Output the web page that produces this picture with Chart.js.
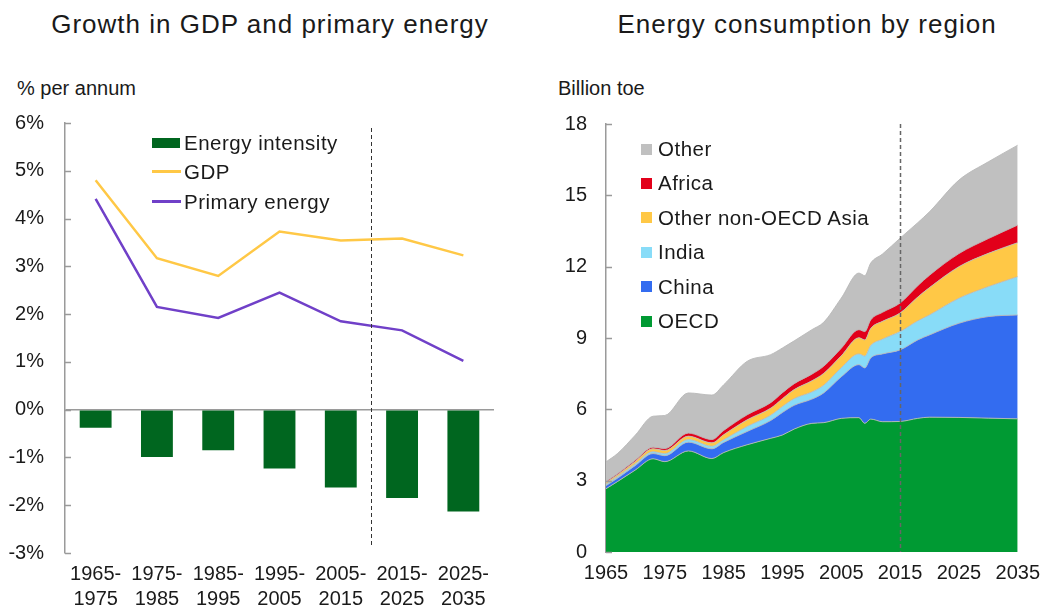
<!DOCTYPE html>
<html>
<head>
<meta charset="utf-8">
<script src="https://cdn.jsdelivr.net/npm/chart.js@4.4.0/dist/chart.umd.min.js"></script>
<style>
  body { margin:0; background:#fff; font-family:"Liberation Sans", Arial, sans-serif; color:#1a1a1a; }
  #wrap { position:relative; width:1049px; height:607px; overflow:hidden; }
  .txt { position:absolute; white-space:nowrap; }
  .title { font-size:26px; line-height:26px; top:11px; letter-spacing:1px; }
  .unit { font-size:20px; line-height:20px; top:78px; }
  .leg { position:absolute; font-size:20.5px; line-height:20px; white-space:nowrap; letter-spacing:0.5px; }
  .sw { position:absolute; }
  canvas { position:absolute; top:0; }
</style>
</head>
<body>
<div id="wrap">
  <div class="txt title" style="left:270px;transform:translateX(-50%)">Growth in GDP and primary energy</div>
  <div class="txt title" style="left:807px;transform:translateX(-50%)">Energy consumption by region</div>
  <div class="txt unit" style="left:17px">% per annum</div>
  <div class="txt unit" style="left:558px">Billion toe</div>

  <canvas id="growthChart" width="530" height="607" style="left:0"></canvas>
  <canvas id="regionChart" width="519" height="607" style="left:530px"></canvas>

  <!-- left legend -->
  <div class="sw" style="left:152px;top:138px;width:28px;height:10px;background:#00661f"></div>
  <div class="leg" style="left:184px;top:133px">Energy intensity</div>
  <div class="sw" style="left:152px;top:170px;width:29px;height:3px;background:#ffc846"></div>
  <div class="leg" style="left:184px;top:162px">GDP</div>
  <div class="sw" style="left:152px;top:200px;width:29px;height:3px;background:#7040c8"></div>
  <div class="leg" style="left:184px;top:192px">Primary energy</div>

  <!-- right legend -->
  <div id="regionLegend"></div>
</div>

<script>
// ---- left chart data ----
var periods = [["1965-","1975"],["1975-","1985"],["1985-","1995"],["1995-","2005"],["2005-","2015"],["2015-","2025"],["2025-","2035"]];
var energyIntensity = [-0.38, -0.99, -0.85, -1.23, -1.63, -1.85, -2.13];
var gdp = [4.80, 3.17, 2.80, 3.73, 3.54, 3.58, 3.23];
var primaryEnergy = [4.41, 2.15, 1.92, 2.45, 1.85, 1.66, 1.02];

// ---- right chart data (billion toe) ----
var years  = [1965, 1967, 1970, 1973, 1975, 1979, 1983, 1985, 1989, 1993, 1995, 1997, 2000, 2002, 2005, 2008, 2009, 2010, 2012, 2015, 2018, 2020, 2025, 2030, 2035];
var oecd   = [2.66, 2.97, 3.45, 3.92, 3.80, 4.25, 3.93, 4.18, 4.51, 4.78, 4.92, 5.17, 5.41, 5.44, 5.62, 5.65, 5.41, 5.59, 5.48, 5.49, 5.62, 5.67, 5.66, 5.63, 5.60];
var china  = [0.13, 0.14, 0.19, 0.22, 0.25, 0.37, 0.41, 0.43, 0.56, 0.75, 0.95, 1.00, 1.02, 1.25, 1.75, 2.23, 2.33, 2.57, 2.85, 3.01, 3.30, 3.46, 3.96, 4.27, 4.37];
var india  = [0.06, 0.06, 0.07, 0.08, 0.09, 0.11, 0.11, 0.11, 0.21, 0.22, 0.25, 0.28, 0.30, 0.32, 0.38, 0.45, 0.50, 0.52, 0.62, 0.77, 0.80, 0.84, 1.05, 1.26, 1.61];
var asia   = [0.07, 0.08, 0.10, 0.12, 0.13, 0.14, 0.14, 0.21, 0.28, 0.30, 0.33, 0.38, 0.47, 0.50, 0.50, 0.68, 0.68, 0.72, 0.75, 0.78, 1.00, 1.15, 1.33, 1.40, 1.43];
var africa = [0.05, 0.05, 0.06, 0.07, 0.08, 0.13, 0.14, 0.18, 0.21, 0.23, 0.25, 0.25, 0.28, 0.30, 0.32, 0.34, 0.35, 0.36, 0.38, 0.42, 0.48, 0.52, 0.55, 0.62, 0.74];
var other  = [0.82, 0.85, 1.05, 1.30, 1.39, 1.69, 1.87, 1.92, 2.25, 2.02, 1.88, 1.80, 1.87, 1.85, 2.11, 2.38, 2.35, 2.39, 2.45, 2.73, 2.65, 2.67, 3.09, 3.23, 3.36];

var regionNames  = ["OECD", "China", "India", "Other non-OECD Asia", "Africa", "Other"];
var regionColors = ["#009a33", "#336cf0", "#88dcf8", "#ffc846", "#e2001a", "#c0c0c0"];
var regionValues = [oecd, china, india, asia, africa, other];

var textColor = "#1a1a1a";
var axisGray = "#9a9a9a";
var fontFamily = '"Liberation Sans", Arial, sans-serif';

//inward tick marks on y axis -start
function innerTicksPlugin(len){
  return {
    id:'innerTicks',
    afterDraw: function(chart){
      var ctx = chart.ctx, y = chart.scales.y;
      ctx.save();
      ctx.strokeStyle = axisGray;
      ctx.lineWidth = 1.5;
      y.ticks.forEach(function(t){
        var py = Math.round(y.getPixelForValue(t.value)) + 0.5;
        ctx.beginPath();
        ctx.moveTo(y.right, py);
        ctx.lineTo(y.right + len, py);
        ctx.stroke();
      });
      ctx.restore();
    }
  };
}
//inward tick marks on y axis -end

// dashed divider for forecast period
function dividerPlugin(getX, topOff, botOff, color, width){
  return {
    id:'divider',
    afterDatasetsDraw: function(chart){
      var ctx = chart.ctx, a = chart.chartArea;
      var px = getX(chart);
      ctx.save();
      ctx.strokeStyle = color;
      ctx.lineWidth = width;
      ctx.setLineDash([4,3]);
      ctx.beginPath();
      ctx.moveTo(px, a.top + topOff);
      ctx.lineTo(px, a.bottom - botOff);
      ctx.stroke();
      ctx.restore();
    }
  };
}

//growth chart -start
var growthCtx = document.getElementById("growthChart").getContext("2d");
var growthChart = new Chart(growthCtx, {
  data: {
    labels: periods,
    datasets: [
      { type:'bar', label:'Energy intensity', data: energyIntensity, backgroundColor:'#00661f',
        barPercentage:0.52, categoryPercentage:1, order:2 },
      { type:'line', label:'GDP', data: gdp, borderColor:'#ffc846', borderWidth:2.5,
        pointRadius:0, tension:0, order:1 },
      { type:'line', label:'Primary energy', data: primaryEnergy, borderColor:'#7040c8', borderWidth:2.5,
        pointRadius:0, tension:0, order:1 }
    ]
  },
  options: {
    responsive:false,
    animation:false,
    layout:{ padding:{ top:123, right:36, left:0, bottom:0 } },
    plugins:{ legend:{ display:false }, tooltip:{ enabled:false } },
    scales:{
      x:{
        grid:{ display:false, drawTicks:false },
        border:{ display:false },
        ticks:{ color:textColor, font:{ family:fontFamily, size:20, lineHeight:1.25 }, padding:9, maxRotation:0 },
        afterFit:function(s){ s.height = 54; }
      },
      y:{
        min:-3, max:6,
        ticks:{ stepSize:1, color:textColor, padding:21, font:{ family:fontFamily, size:20 },
          callback:function(v){ return v + '%'; } },
        grid:{ drawTicks:false, lineWidth:1.5,
          color:function(c){ return c.tick && c.tick.value === 0 ? axisGray : 'rgba(0,0,0,0)'; } },
        border:{ color:axisGray, width:1.5 },
        afterFit:function(s){ s.width = 65; }
      }
    }
  },
  plugins:[
    innerTicksPlugin(6),
    dividerPlugin(function(ch){ var x = ch.scales.x; return Math.round((x.getPixelForValue(4) + x.getPixelForValue(5)) / 2) + 0.5; }, 5, 6, '#333', 1)
  ]
});
//growth chart -end

//region chart -start
var regionSets = [];
for (var i = 0; i < regionNames.length; i++) {
  (function(i){
    regionSets.push({
      label: regionNames[i],
      data: years.map(function(yr, k){ return { x: yr, y: regionValues[i][k] }; }),
      backgroundColor: regionColors[i],
      borderColor: 'rgba(185,185,185,0.9)',
      borderWidth: 1,
      fill: i === 0 ? 'origin' : '-1',
      pointRadius: 0,
      cubicInterpolationMode: 'monotone'
    });
  })(i);
}

var regionCtx = document.getElementById("regionChart").getContext("2d");
var regionChart = new Chart(regionCtx, {
  type:'line',
  data:{ datasets: regionSets },
  options:{
    responsive:false,
    animation:false,
    layout:{ padding:{ top:124, right:26, left:0, bottom:0 } },
    plugins:{ legend:{ display:false }, tooltip:{ enabled:false }, filler:{ propagate:false } },
    scales:{
      x:{
        type:'linear', min:1965, max:2035,
        grid:{ display:false, drawTicks:false },
        border:{ display:false },
        ticks:{ stepSize:10, color:textColor, padding:9, maxRotation:0, font:{ family:fontFamily, size:20 },
          callback:function(v){ return String(v); } },
        afterFit:function(s){ s.height = 55; }
      },
      y:{
        stacked:true, min:0, max:18,
        ticks:{ stepSize:3, color:textColor, padding:19, font:{ family:fontFamily, size:20 } },
        grid:{ display:false, drawTicks:false },
        border:{ color:axisGray, width:1.5 },
        afterFit:function(s){ s.width = 76; }
      }
    }
  },
  plugins:[
    innerTicksPlugin(6),
    dividerPlugin(function(ch){ return Math.round(ch.scales.x.getPixelForValue(2015)) + 0.5; }, 0, 0, '#666', 1.5)
  ]
});
//region chart -end

// right legend, top item is Other
var legendHtml = '';
var rowTop = 139;
for (var j = regionNames.length - 1; j >= 0; j--) {
  var n = regionNames.length - 1 - j;
  var cy = rowTop + n * 34.4;
  legendHtml += '<div class="sw" style="left:641px;top:' + (cy + 4.5) + 'px;width:11px;height:11px;background:' + regionColors[j] + '"></div>';
  legendHtml += '<div class="leg" style="left:658px;top:' + cy + 'px">' + regionNames[j] + '</div>';
}
document.getElementById("regionLegend").innerHTML = legendHtml;
</script>
</body>
</html>
